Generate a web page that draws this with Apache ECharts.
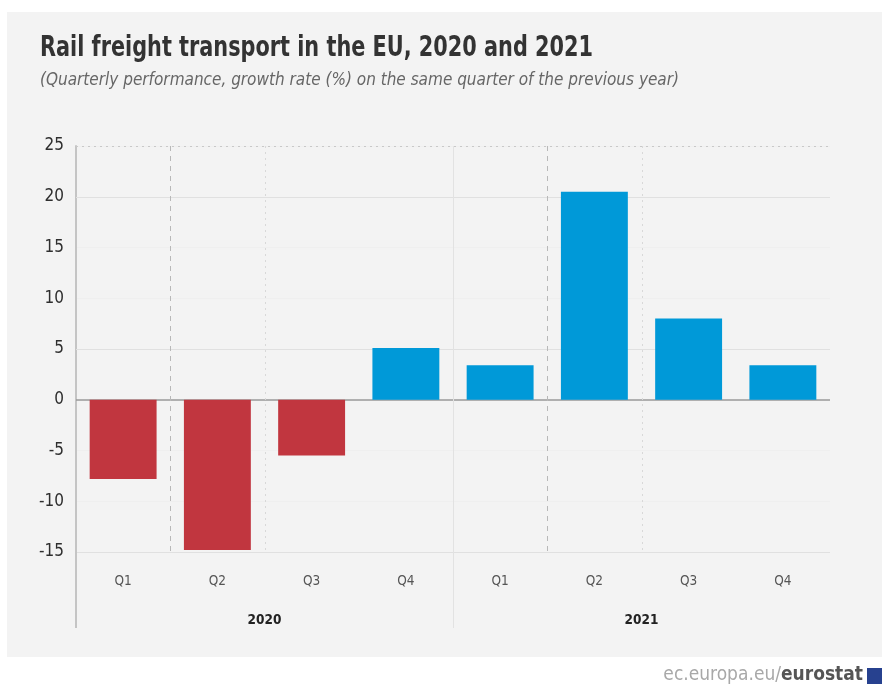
<!DOCTYPE html>
<html>
<head>
<meta charset="utf-8">
<style>
  html, body { margin: 0; padding: 0; background: #ffffff; }
  #chart { width: 882px; height: 684px; }
</style>
<script src="https://cdn.jsdelivr.net/npm/echarts@6/dist/echarts.min.js"></script>
</head>
<body>
<div id="chart"></div>
<script>
// Quarterly rail freight growth rates (% on same quarter of previous year)
const quarters = ['Q1', 'Q2', 'Q3', 'Q4', 'Q1', 'Q2', 'Q3', 'Q4'];
const years = ['2020', '2021'];
const growth = [-7.8, -14.8, -5.5, 5.1, 3.4, 20.5, 8.0, 3.4];
const yTicks = { min: -15, max: 25, step: 5 };
const strongGrid = [20, 5, -15];
const dottedGrid = [25];
// category boundaries (0 = left edge) that carry vertical guides
const dashedBounds = [1, 5];
const dottedBounds = [2, 6];
const yearBounds = [4];

const TITLE = 'Rail freight transport in the EU, 2020 and 2021';
const SUBTITLE = '(Quarterly performance, growth rate (%) on the same quarter of the previous year)';

const RED = '#c1363f';
const BLUE = '#0099d8';
const FONT = '"DejaVu Sans Condensed", "Liberation Sans Narrow", "Open Sans", sans-serif';

const chart = echarts.init(document.getElementById('chart'), null, { renderer: 'canvas' });

const option = {
  backgroundColor: '#ffffff',
  animation: false,
  textStyle: { fontFamily: FONT },
  grid: { left: 76, right: 52, top: 146, bottom: 132, containLabel: false },
  xAxis: [
    {
      type: 'category',
      data: quarters,
      position: 'bottom',
      axisLine: { show: false },
      axisTick: { show: false },
      axisLabel: { color: '#555555', fontSize: 13.5, margin: 22, fontFamily: FONT },
      splitLine: { show: false }
    },
    {
      type: 'category',
      data: years,
      position: 'bottom',
      axisLine: { show: false },
      axisTick: { show: false },
      axisLabel: { color: '#222222', fontSize: 13.5, fontWeight: 'bold', margin: 61, fontFamily: FONT },
      splitLine: { show: false }
    }
  ],
  yAxis: {
    type: 'value',
    min: yTicks.min,
    max: yTicks.max,
    interval: yTicks.step,
    axisLine: { show: true, lineStyle: { color: '#c4c4c4', width: 2 } },
    axisTick: { show: false },
    axisLabel: { color: '#2e2e2e', fontSize: 17, margin: 12, fontFamily: FONT },
    splitLine: { show: true, lineStyle: { color: '#efefef', width: 1 } }
  },
  series: [
    {
      type: 'bar',
      xAxisIndex: 0,
      barWidth: '71%',
      data: growth.map(v => ({ value: v, itemStyle: { color: v < 0 ? RED : BLUE } })),
      markLine: {
        silent: true,
        symbol: 'none',
        label: { show: false },
        data: [
          ...strongGrid.map(v => ({ yAxis: v, lineStyle: { color: '#e0e0e0', type: 'solid', width: 1 } })),
          ...dottedGrid.map(v => ({ yAxis: v, lineStyle: { color: '#c8c8c8', type: [2, 4], width: 1 } })),
          { yAxis: 0, lineStyle: { color: '#9a9a9a', type: 'solid', width: 1.5 } }
        ],
        z: 1
      }
    }
  ]
};

chart.setOption(option);

// Width of a string in a given canvas font, used to condense the headline
function measure(text, font) {
  const ctx = document.createElement('canvas').getContext('2d');
  ctx.font = font;
  return ctx.measureText(text).width;
}

// Panel background, headline, guides, axis extensions and footer credit
function addDecorations() {
  const w = chart.getWidth();
  const h = chart.getHeight();
  const bottomVal = chart.convertToPixel({ yAxisIndex: 0 }, yTicks.min);
  const topVal = chart.convertToPixel({ yAxisIndex: 0 }, yTicks.max);
  const x0 = chart.convertToPixel({ xAxisIndex: 0 }, 0);
  const x1 = chart.convertToPixel({ xAxisIndex: 0 }, 1);
  const step = x1 - x0;
  const left = x0 - step / 2;
  const boundX = (b) => Math.round(left + step * b) + 0.5;
  const lowEnd = bottomVal + 76;

  const titleSize = 29;
  const titleW = measure(TITLE, 'bold ' + titleSize + 'px ' + FONT);
  const titleScale = 553 / titleW;

  const guides = [];
  dashedBounds.forEach(b => guides.push({
    type: 'line', z: 1, silent: true,
    shape: { x1: boundX(b), y1: topVal, x2: boundX(b), y2: bottomVal },
    style: { stroke: '#b8b8b8', lineWidth: 1, lineDash: [5, 5] }
  }));
  dottedBounds.forEach(b => guides.push({
    type: 'line', z: 1, silent: true,
    shape: { x1: boundX(b), y1: topVal, x2: boundX(b), y2: bottomVal },
    style: { stroke: '#d8d8d8', lineWidth: 1, lineDash: [2, 4] }
  }));
  yearBounds.forEach(b => guides.push({
    type: 'line', z: 1, silent: true,
    shape: { x1: boundX(b), y1: topVal, x2: boundX(b), y2: lowEnd },
    style: { stroke: '#e2e2e2', lineWidth: 1 }
  }));

  chart.setOption({
    graphic: [
      {
        type: 'rect', z: -100, silent: true,
        shape: { x: 7, y: 12, width: w - 7, height: 645 },
        style: { fill: '#f3f3f3' }
      },
      {
        type: 'text', z: 5, silent: true,
        x: 40, y: 48, scaleX: titleScale,
        style: {
          text: TITLE, fontFamily: FONT, fontSize: titleSize, fontWeight: 'bold',
          fill: '#333333', align: 'left', verticalAlign: 'middle'
        }
      },
      {
        type: 'text', z: 5, silent: true,
        x: 40, y: 81,
        style: {
          text: SUBTITLE, fontFamily: FONT, fontSize: 17, fontStyle: 'italic',
          fill: '#666666', align: 'left', verticalAlign: 'middle'
        }
      },
      ...guides,
      {
        type: 'line', z: 5, silent: true,
        shape: { x1: left, y1: bottomVal, x2: left, y2: lowEnd },
        style: { stroke: '#c4c4c4', lineWidth: 2 }
      },
      {
        type: 'text', z: 5, silent: true,
        x: 863, y: 675,
        style: {
          text: '{a|ec.europa.eu/}{b|eurostat}',
          align: 'right', verticalAlign: 'middle',
          rich: {
            a: { fontFamily: FONT, fontSize: 19, fill: '#a8a8a8' },
            b: { fontFamily: FONT, fontSize: 19, fontWeight: 'bold', fill: '#555555' }
          }
        }
      },
      {
        type: 'rect', z: 5, silent: true,
        shape: { x: 867, y: h - 16, width: w - 867, height: 16 },
        style: { fill: '#27418f' }
      }
    ]
  });
}
addDecorations();
</script>
</body>
</html>
